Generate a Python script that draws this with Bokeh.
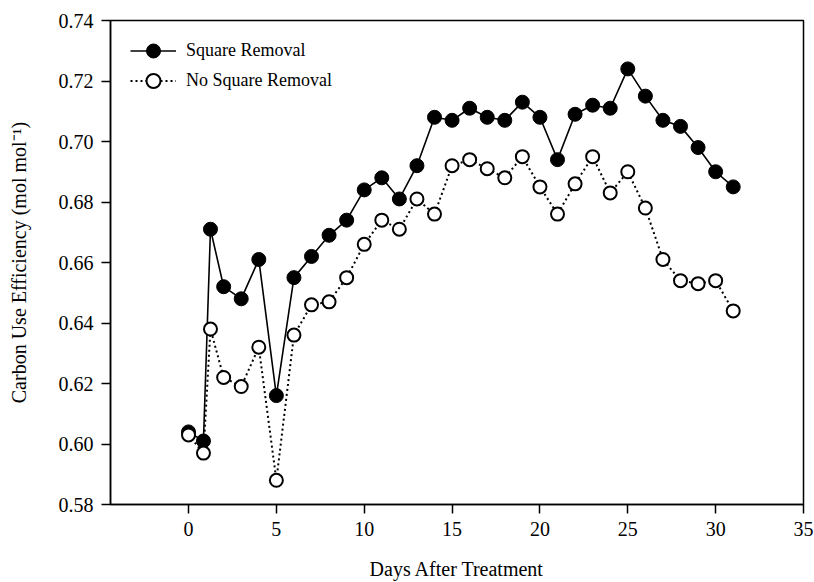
from bokeh.plotting import figure
from bokeh.models import Range1d, Legend, LegendItem, FixedTicker, NumeralTickFormatter, ColumnDataSource
from bokeh.embed import file_html
from bokeh.resources import INLINE

# ---- data ----
days = [0, 0.85, 1.25, 2, 3, 4, 5, 6, 7, 8, 9, 10, 11, 12, 13, 14, 15, 16,
        17, 18, 19, 20, 21, 22, 23, 24, 25, 26, 27, 28, 29, 30, 31]
square_removal = [0.604, 0.601, 0.671, 0.652, 0.648, 0.661, 0.616, 0.655, 0.662,
                  0.669, 0.674, 0.684, 0.688, 0.681, 0.692, 0.708, 0.707, 0.711,
                  0.708, 0.707, 0.713, 0.708, 0.694, 0.709, 0.712, 0.711, 0.724,
                  0.715, 0.707, 0.705, 0.698, 0.690, 0.685]
no_square_removal = [0.603, 0.597, 0.638, 0.622, 0.619, 0.632, 0.588, 0.636, 0.646,
                     0.647, 0.655, 0.666, 0.674, 0.671, 0.681, 0.676, 0.692, 0.694,
                     0.691, 0.688, 0.695, 0.685, 0.676, 0.686, 0.695, 0.683, 0.690,
                     0.678, 0.661, 0.654, 0.653, 0.654, 0.644]
x_ticks = [0, 5, 10, 15, 20, 25, 30, 35]
y_ticks = [0.58, 0.60, 0.62, 0.64, 0.66, 0.68, 0.70, 0.72, 0.74]
series_names = ["Square Removal", "No Square Removal"]

FONT = "Liberation Serif"

src = ColumnDataSource(dict(x=days, a=square_removal, b=no_square_removal))

p = figure(width=814, height=582, output_backend="svg", toolbar_location=None,
           x_range=Range1d(-4.44, 35), y_range=Range1d(0.58, 0.74),
           min_border_left=110, min_border_right=11, min_border_top=20,
           min_border_bottom=78)
p.background_fill_color = "white"
p.border_fill_color = "white"
p.outline_line_color = "black"
p.outline_line_width = 1.5
p.xgrid.visible = False
p.ygrid.visible = False

l1 = p.line("x", "a", source=src, line_color="black", line_width=1.6)
s1 = p.scatter("x", "a", source=src, size=14, fill_color="black", line_color="black",
               line_width=1)
l2 = p.line("x", "b", source=src, line_color="black", line_width=2, line_dash="2 3")
s2 = p.scatter("x", "b", source=src, size=13, fill_color="white", line_color="black",
               line_width=2)

for ax in (p.xaxis[0], p.yaxis[0]):
    ax.axis_line_width = 1.5
    ax.major_tick_line_width = 1.5
    ax.major_tick_out = 9
    ax.major_tick_in = 0
    ax.minor_tick_line_color = None
    ax.major_label_text_font = FONT
    ax.major_label_text_font_size = "20px"
    ax.major_label_text_color = "black"
    ax.axis_label_text_font = FONT
    ax.axis_label_text_font_size = "20px"
    ax.axis_label_text_font_style = "normal"
    ax.axis_label_text_color = "black"

p.xaxis.ticker = FixedTicker(ticks=x_ticks)
p.yaxis.ticker = FixedTicker(ticks=y_ticks)
p.yaxis.formatter = NumeralTickFormatter(format="0.00")
p.xaxis.axis_label = "Days After Treatment"
p.yaxis.axis_label = "Carbon Use Efficiency (mol mol\u207b\u00b9)"
p.xaxis.major_label_standoff = 8
p.xaxis.axis_label_standoff = 19
p.yaxis.major_label_standoff = 8
p.yaxis.axis_label_standoff = 26


def make_legend(name, renderers, bottom):
    return Legend(items=[LegendItem(label=name, renderers=renderers)],
                  location=(20, bottom), padding=0, margin=0, spacing=0,
                  glyph_width=46, glyph_height=35, label_height=35,
                  label_standoff=10, label_text_font=FONT,
                  label_text_font_size="18px", label_text_color="black",
                  border_line_color=None, background_fill_alpha=0)


p.add_layout(make_legend(series_names[0], [l1, s1], 436))
p.add_layout(make_legend(series_names[1], [l2, s2], 406))

open("out.html", "w").write(file_html(p, INLINE))
